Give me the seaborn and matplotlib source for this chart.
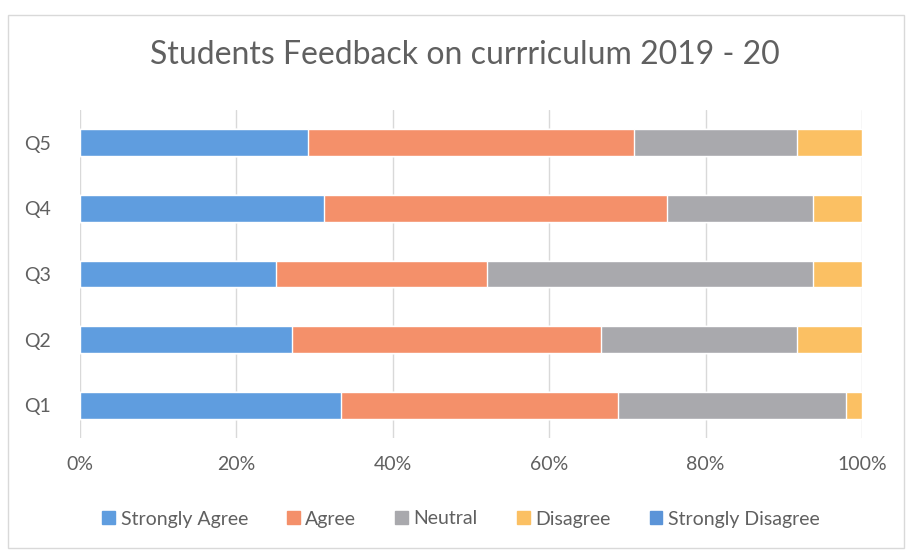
import numpy as np
import pandas as pd
import seaborn as sns
import matplotlib.pyplot as plt
from matplotlib.patches import Rectangle
from matplotlib.ticker import PercentFormatter

questions = ['Q1', 'Q2', 'Q3', 'Q4', 'Q5']
responses = ['Strongly Agree', 'Agree', 'Neutral', 'Disagree', 'Strongly Disagree']
strongly_agree = [16, 13, 12, 15, 14]
agree = [17, 19, 13, 21, 20]
neutral = [14, 12, 20, 9, 10]
disagree = [1, 4, 3, 3, 4]
strongly_disagree = [0, 0, 0, 0, 0]
colors = ['#5f9ddf', '#f4906a', '#a9a9ad', '#fbc063', '#5b94d8']

counts = pd.DataFrame({
    'Strongly Agree': strongly_agree,
    'Agree': agree,
    'Neutral': neutral,
    'Disagree': disagree,
    'Strongly Disagree': strongly_disagree,
}, index=questions)
share = counts.div(counts.sum(axis=1), axis=0) * 100
cum = share.cumsum(axis=1)

sns.set_style('white')
plt.rcParams['font.family'] = ['Lato', 'DejaVu Sans']
grey = '#606060'

fig = plt.figure(figsize=(9.09, 5.53), dpi=100)
ax = fig.add_axes([80 / 909, 1 - 438 / 553, 782 / 909, 328 / 553])

order = ['Q5', 'Q4', 'Q3', 'Q2', 'Q1']
# stacked bars: draw cumulative totals from the outermost segment inwards
for resp, col in reversed(list(zip(responses, colors))):
    df = cum[resp].rename_axis('q').reset_index(name='val')
    sns.barplot(data=df, x='val', y='q', order=order, color=col,
                width=0.41, saturation=1, orient='h', ax=ax, zorder=2)

ax.set_xlim(0, 100)
ax.set_ylim(4.5, -0.5)
ax.set_xticks(np.arange(0, 101, 20))
ax.xaxis.set_major_formatter(PercentFormatter(decimals=0))
ax.grid(axis='x', color='#d9d9d9', lw=1, zorder=0)
ax.set_axisbelow(True)
for s in ax.spines.values():
    s.set_visible(False)
ax.set_xlabel('')
ax.set_ylabel('')
ax.tick_params(axis='both', length=0, labelsize=14, labelcolor=grey)
ax.tick_params(axis='x', pad=13)
ax.tick_params(axis='y', pad=21)

fig.text(465 / 909, 1 - 55 / 553, 'Students Feedback on currriculum 2019 - 20',
         ha='center', va='center', fontsize=23, color=grey)

handles = [Rectangle((0, 0), 1, 1, color=c) for c in colors]
fig.legend(handles, responses, loc='center', bbox_to_anchor=(461 / 909, 1 - 519 / 553),
           ncol=5, frameon=False, fontsize=14, labelcolor=grey,
           handlelength=0.65, handleheight=0.65, handletextpad=0.3, columnspacing=2.0)

fig.add_artist(Rectangle((8 / 909, 1 - 548 / 553), 896 / 909, 533 / 553,
                         transform=fig.transFigure, fill=False, ec='#d9d9d9', lw=1))

fig.savefig('out.png', dpi=100)
